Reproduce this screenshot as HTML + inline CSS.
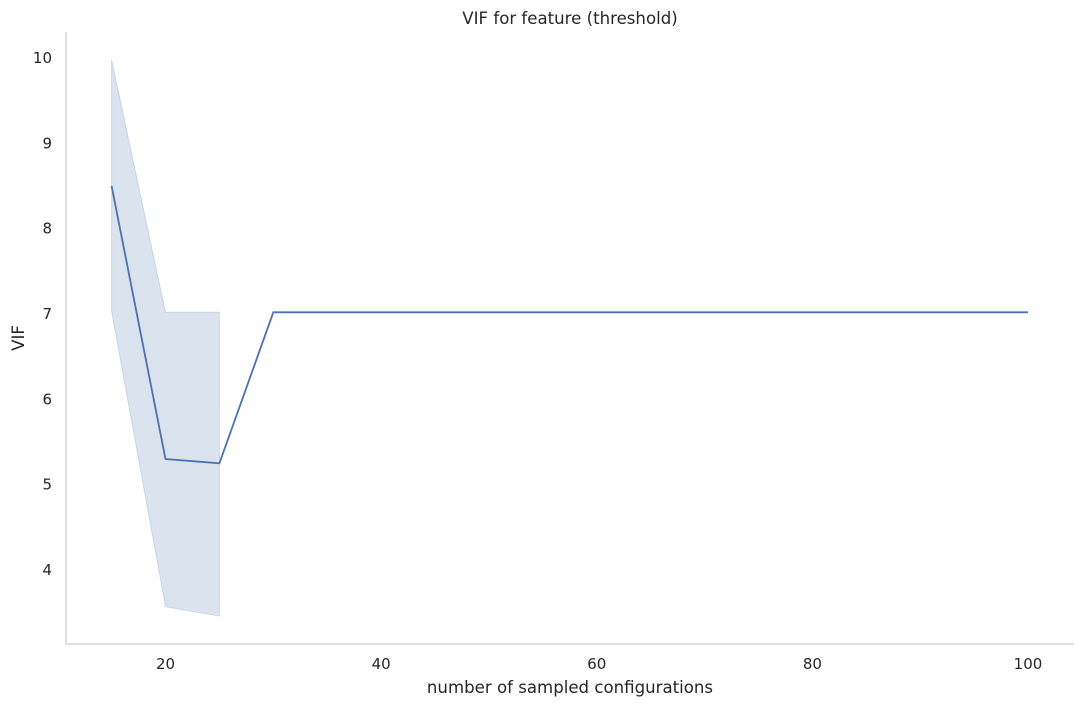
<!DOCTYPE html>
<html><head><meta charset="utf-8"><style>
html,body{margin:0;padding:0;background:#fff;}
svg text{font-family:"DejaVu Sans","Liberation Sans",sans-serif;fill:#262626;}
</style></head><body>
<svg id="chart" width="1084" height="706" xmlns="http://www.w3.org/2000/svg">
<text x="570" y="24" text-anchor="middle" font-size="16.6">VIF for feature (threshold)</text>
<line x1="66" y1="32" x2="66" y2="644" stroke="#ccc" stroke-width="1.25"/>
<line x1="66" y1="644" x2="1074" y2="644" stroke="#ccc" stroke-width="1.25"/>
<text x="570" y="693" text-anchor="middle" font-size="16.6">number of sampled configurations</text>
<text transform="translate(24,338) rotate(-90)" text-anchor="middle" font-size="16.6">VIF</text>
<g id="xticks"></g><g id="yticks"></g>
<path id="band" fill="#4c72b0" fill-opacity="0.2" stroke="#4c72b0" stroke-opacity="0.2"/>
<path id="line" fill="none" stroke="#4c72b0" stroke-width="1.8"/>
</svg>
<script>
const xs=[15,20,25,30,35,40,45,50,55,60,65,70,75,80,85,90,95,100];
const mean=[8.5,5.3,5.25,7.02,7.02,7.02,7.02,7.02,7.02,7.02,7.02,7.02,7.02,7.02,7.02,7.02,7.02,7.02];
const bandX=[15,20,25];
const upper=[9.98,7.02,7.02];
const lower=[7.03,3.57,3.46];
const xTicks=[20,40,60,80,100];
const yTicks=[4,5,6,7,8,9,10];
function X(v){return 165.5+(v-20)*(1028-165.5)/80;}
function Y(v){return 570-(v-4)*(570-58)/6;}
const ns="http://www.w3.org/2000/svg";
const xg=document.getElementById('xticks'),yg=document.getElementById('yticks');
xTicks.forEach(t=>{const e=document.createElementNS(ns,'text');


e.setAttribute('x',X(t));e.setAttribute('y',669);e.setAttribute('text-anchor','middle');e.setAttribute('font-size','15');e.textContent=t;xg.appendChild(e);});
yTicks.forEach(t=>{const e=document.createElementNS(ns,'text');


e.setAttribute('x',52);e.setAttribute('y',Y(t)+5);e.setAttribute('text-anchor','end');e.setAttribute('font-size','15');e.textContent=t;yg.appendChild(e);});
let d='';bandX.forEach((x,i)=>{d+=(i?'L':'M')+X(x)+','+Y(upper[i]);});
for(let i=bandX.length-1;i>=0;i--)d+='L'+X(bandX[i])+','+Y(lower[i]);
document.getElementById('band').setAttribute('d',d+'Z');
let l='';xs.forEach((x,i)=>{l+=(i?'L':'M')+X(x)+','+Y(mean[i]);});
document.getElementById('line').setAttribute('d',l);
</script>
</body></html>
